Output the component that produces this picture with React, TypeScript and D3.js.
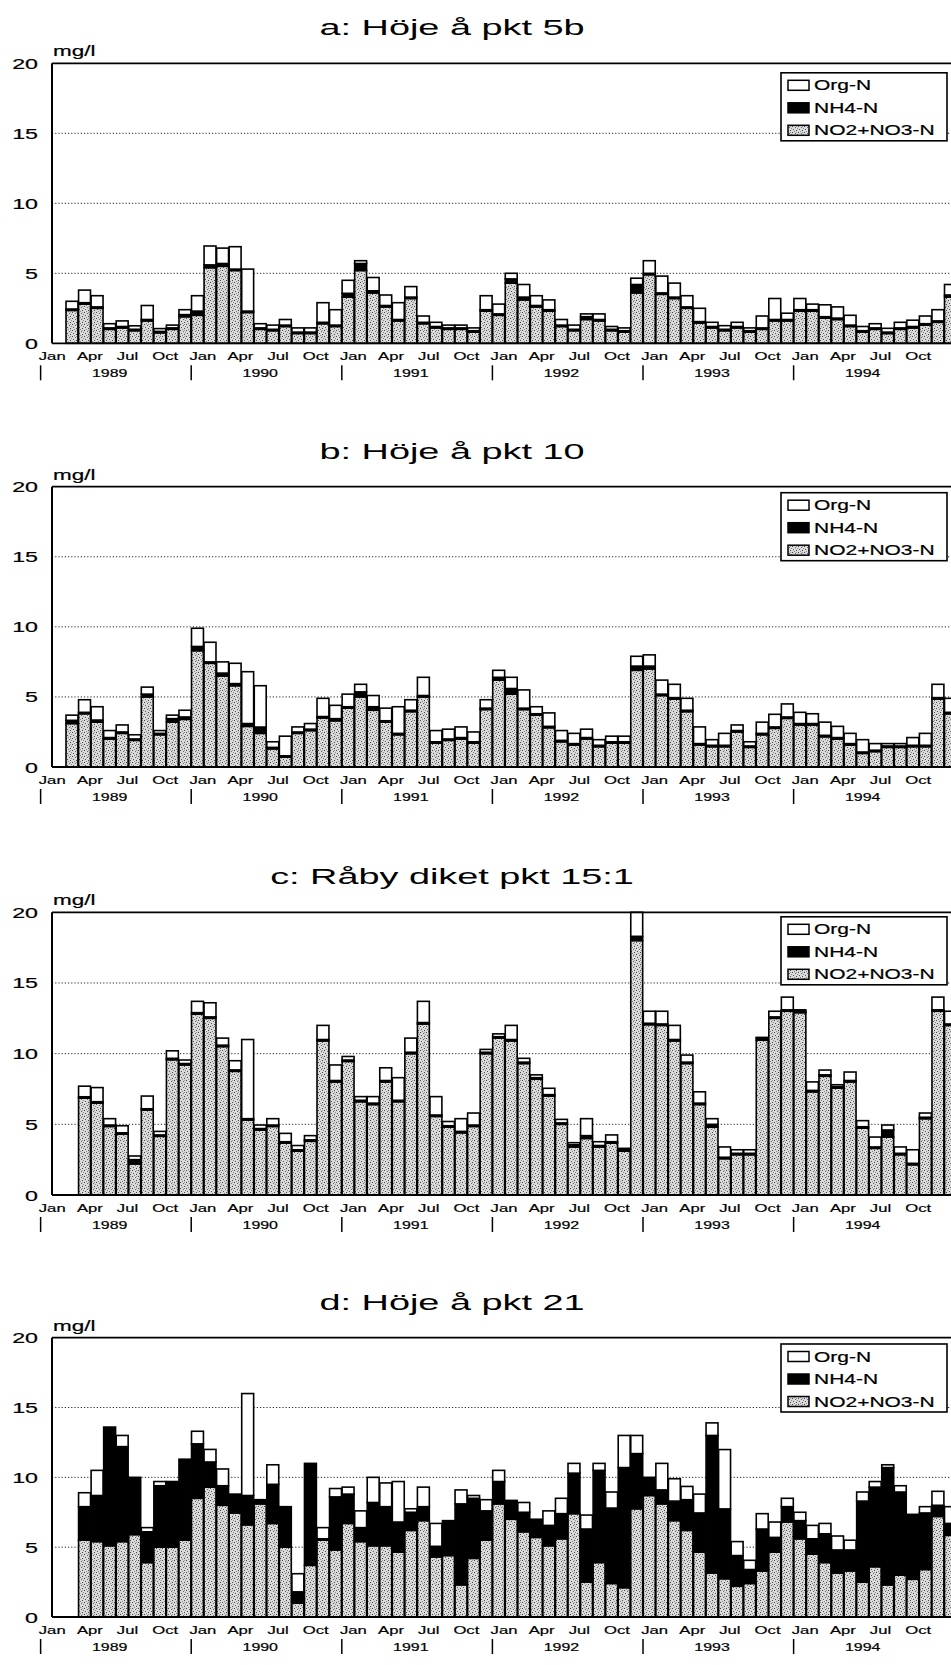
import React from 'react';
import * as d3 from 'd3';

// ---------- categories / labels ----------
const quarterLabels = ['Jan', 'Apr', 'Jul', 'Oct'];
const yearLabels = ['1989', '1990', '1991', '1992', '1993', '1994'];
const yTickValues = [0, 5, 10, 15, 20];
const seriesKeys = ['no3', 'nh4', 'org'];
const legendLabels = ['Org-N', 'NH4-N', 'NO2+NO3-N'];
const unitLabel = 'mg/l';

// ---------- panel a: Höje å pkt 5b (first bar at slot 2) ----------
const aTitle = 'a: Höje å pkt 5b';
const aStart = 2;
const aNO3 = [2.35,2.8,2.5,1.0,1.1,0.9,1.6,0.75,1.0,1.9, 2.0,5.4,5.5,5.2,2.2,1.0,0.9,1.2,0.7,0.7, 1.4,1.2,3.3,5.2,3.6,2.6,1.6,3.2,1.4,1.1, 1.0,1.0,0.8,2.3,2.0,4.3,3.1,2.6,2.3,1.2, 0.9,1.7,1.6,0.9,0.8,3.6,4.9,3.5,3.2,2.5, 1.45,1.1,0.9,1.1,0.8,1.0,1.6,1.6,2.3,2.3, 1.8,1.7,1.2,0.8,1.0,0.7,1.0,1.1,1.3,1.5, 3.3];
const aNH4 = [0.1,0.1,0.1,0.1,0.1,0.1,0.1,0.1,0.1,0.15, 0.3,0.2,0.2,0.1,0.1,0.1,0.1,0.1,0.1,0.1, 0.1,0.1,0.27,0.5,0.15,0.1,0.1,0.1,0.1,0.1, 0.1,0.1,0.1,0.1,0.1,0.3,0.2,0.1,0.1,0.1, 0.1,0.2,0.1,0.1,0.1,0.6,0.1,0.1,0.1,0.1, 0.1,0.1,0.1,0.1,0.1,0.1,0.1,0.1,0.1,0.1, 0.1,0.1,0.1,0.1,0.1,0.1,0.1,0.1,0.1,0.1, 0.15];
const aOrg = [0.55,0.9,0.8,0.3,0.4,0.25,1.0,0.2,0.2,0.35, 1.1,1.35,1.1,1.6,3.0,0.3,0.3,0.4,0.3,0.3, 1.4,1.1,0.93,0.2,0.95,0.75,1.2,0.75,0.45,0.3, 0.2,0.2,0.2,1.0,0.7,0.4,0.9,0.7,0.7,0.4, 0.3,0.2,0.4,0.2,0.2,0.45,0.9,1.2,1.0,0.8, 0.95,0.3,0.26,0.3,0.2,0.85,1.5,0.45,0.8,0.4, 0.85,0.8,0.7,0.3,0.3,0.27,0.4,0.45,0.55,0.8, 0.75];

// ---------- panel b: Höje å pkt 10 ----------
const bTitle = 'b: Höje å pkt 10';
const bStart = 2;
const bNO3 = [3.1,3.8,3.2,2.0,2.4,1.9,5.0,2.3,3.2,3.4, 8.3,7.4,6.5,5.8,2.9,2.4,1.3,0.7,2.4,2.6, 3.5,3.3,4.2,5.0,4.05,3.2,2.3,3.95,5.0,1.7, 1.9,2.0,1.7,4.1,6.2,5.2,4.1,3.7,2.8,1.8, 1.57,2.0,1.45,1.7,1.7,6.9,7.0,5.1,4.85,3.95, 1.57,1.45,1.45,2.5,1.4,2.3,2.76,3.47,3.0,3.0, 2.16,2.0,1.57,0.97,1.1,1.4,1.4,1.45,1.45,4.85, 3.8];
const bNH4 = [0.23,0.1,0.15,0.1,0.1,0.1,0.2,0.1,0.25,0.17, 0.3,0.1,0.2,0.15,0.2,0.45,0.1,0.1,0.1,0.1, 0.1,0.15,0.1,0.36,0.25,0.1,0.1,0.1,0.1,0.1, 0.1,0.1,0.1,0.1,0.2,0.4,0.1,0.1,0.1,0.1, 0.1,0.1,0.1,0.1,0.1,0.3,0.2,0.1,0.1,0.1, 0.1,0.1,0.1,0.1,0.1,0.1,0.1,0.1,0.1,0.1, 0.1,0.1,0.1,0.1,0.1,0.1,0.1,0.1,0.1,0.1, 0.1];
const bOrg = [0.37,0.9,0.95,0.5,0.5,0.3,0.5,0.2,0.25,0.48, 1.3,1.4,0.8,1.45,3.7,2.95,0.4,1.4,0.36,0.4, 1.3,0.95,0.9,0.54,0.8,0.9,1.9,0.75,1.3,0.8, 0.7,0.76,0.7,0.6,0.5,0.8,1.3,0.5,0.96,0.7, 0.73,0.6,0.4,0.4,0.4,0.7,0.8,1.0,0.95,0.85, 1.19,0.4,0.85,0.4,0.3,0.8,0.9,0.93,0.8,0.7, 0.94,0.8,0.73,0.88,0.47,0.17,0.17,0.55,0.85,0.95, 1.0];

// ---------- panel c: Råby diket pkt 15:1 ----------
const cTitle = 'c: Råby diket pkt 15:1';
const cStart = 3;
const cNO3 = [6.85,6.5,4.85,4.3,2.2,6.0,4.15,9.57,9.2,12.8, 12.5,10.5,8.75,5.3,4.6,4.85,3.67,3.1,3.8,10.9, 8.0,9.45,6.6,6.4,8.0,6.6,10.0,12.1,5.56,4.8, 4.4,4.85,10.0,11.1,10.9,9.3,8.2,7.0,5.0,3.4, 4.0,3.4,3.67,3.1,18.0,12.05,12.0,10.9,9.3,6.4, 4.8,2.57,2.85,2.85,10.95,12.5,13.0,12.9,7.3,8.4, 7.56,8.0,4.73,3.3,4.1,2.85,2.14,5.4,13.0,12.0];
const cNH4 = [0.1,0.1,0.1,0.1,0.3,0.1,0.1,0.1,0.1,0.1, 0.1,0.1,0.1,0.1,0.1,0.1,0.1,0.1,0.1,0.1, 0.1,0.1,0.1,0.1,0.1,0.1,0.1,0.1,0.1,0.1, 0.1,0.1,0.1,0.1,0.1,0.1,0.1,0.1,0.1,0.15, 0.2,0.1,0.1,0.1,0.3,0.1,0.1,0.1,0.1,0.1, 0.2,0.1,0.1,0.1,0.15,0.1,0.1,0.1,0.1,0.1, 0.1,0.1,0.1,0.1,0.5,0.1,0.1,0.1,0.1,0.1];
const cOrg = [0.75,1.0,0.45,0.5,0.26,0.9,0.25,0.53,0.25,0.8, 1.0,0.5,0.65,5.6,0.25,0.45,0.59,0.3,0.3,1.0, 1.1,0.25,0.26,0.46,0.9,1.6,1.0,1.5,1.3,0.3, 0.9,0.85,0.2,0.2,1.0,0.27,0.2,0.45,0.25,0.15, 1.2,0.27,0.48,0.1,1.7,0.85,0.9,1.0,0.5,0.8, 0.4,0.73,0.25,0.25,0.05,0.4,0.9,0.1,0.6,0.34, 0.14,0.6,0.43,0.7,0.35,0.45,0.96,0.3,0.9,0.9];

// ---------- panel d: Höje å pkt 21 ----------
const dTitle = 'd: Höje å pkt 21';
const dStart = 3;
const dNO3 = [5.5,5.4,5.1,5.4,5.9,3.9,5.0,5.0,5.5,8.5, 9.3,8.0,7.45,6.6,8.1,6.7,5.0,1.0,3.7,5.5, 4.8,6.7,5.4,5.1,5.1,4.65,6.2,6.9,4.3,4.4, 2.3,4.2,5.5,8.1,7.0,6.1,5.7,5.1,5.6,7.4, 2.5,3.9,2.4,2.1,7.75,8.7,8.1,6.9,6.2,4.65, 3.15,2.74,2.2,2.4,3.3,4.65,6.8,5.6,4.5,3.9, 3.15,3.3,2.5,3.6,2.3,3.0,2.7,3.4,7.2,5.85];
const dNH4 = [2.4,3.3,8.5,6.8,4.1,2.2,4.4,4.6,5.8,3.9, 1.8,1.4,1.35,2.1,0.3,2.8,2.9,0.8,7.3,0.1, 3.8,2.1,1.0,3.1,2.8,2.15,1.3,1.0,0.76,2.5, 5.8,4.3,2.1,1.6,1.35,1.4,1.2,1.46,1.8,2.9, 3.8,6.6,5.4,8.6,3.95,1.3,1.0,1.4,2.2,2.8, 9.85,5.0,2.2,1.0,3.0,1.05,1.1,1.3,1.1,2.06, 1.65,1.5,5.8,5.7,8.4,5.95,4.65,4.05,0.8,0.85];
const dOrg = [1.0,1.8,0.0,0.8,0.0,0.3,0.3,0.1,0.0,0.9, 0.9,1.2,0.0,7.3,0.0,1.4,0.0,1.3,0.0,0.8, 0.6,0.5,1.2,1.8,1.7,2.9,0.25,1.4,1.64,0.0, 1.0,0.2,0.8,0.8,0.0,0.7,0.1,1.04,1.1,0.7, 1.0,0.5,1.15,2.3,1.3,0.0,1.9,1.6,0.95,1.35, 0.9,4.25,1.0,0.66,1.1,1.1,0.6,0.6,0.96,0.74, 1.0,0.7,0.65,0.4,0.2,0.45,0.0,0.45,1.0,1.2];

const panels = [
  { title: aTitle, start: aStart, no3: aNO3, nh4: aNH4, org: aOrg },
  { title: bTitle, start: bStart, no3: bNO3, nh4: bNH4, org: bOrg },
  { title: cTitle, start: cStart, no3: cNO3, nh4: cNH4, org: cOrg },
  { title: dTitle, start: dStart, no3: dNO3, nh4: dNH4, org: dOrg },
];

// ---------- layout ----------
const W = 951;
const H = 1665;
const FONT = "'Liberation Sans', Arial, Helvetica, sans-serif";
const SX = 1.55; // horizontal stretch of the scanned lettering
const plotLeft = 52;
const plotRight = 960;
const panelTop = [63.3, 486.7, 912.3, 1337.7];
const panelBottom = [343.3, 767, 1195, 1617];
const legendDy = [9.5, 6, 4.5, 6.3];
const nSlots = 76;
const slotStep = 12.55;
const slotX0 = 40.6;

const x = d3
  .scaleBand<number>()
  .domain(d3.range(nSlots))
  .range([slotX0, slotX0 + nSlots * slotStep])
  .paddingInner(0.05)
  .paddingOuter(0.025);

const fills: Record<string, string> = {
  no3: 'url(#stipple)',
  nh4: '#000',
  org: '#fff',
};

function SText(props: {
  x: number;
  y: number;
  size: number;
  anchor?: string;
  sx?: number;
  sw?: number;
  children: React.ReactNode;
}) {
  const { x: tx, y: ty, size, anchor = 'start', sx = SX, sw = 0.2, children } = props;
  return (
    <text
      transform={`translate(${tx},${ty}) scale(${sx},1)`}
      textAnchor={anchor}
      fontFamily={FONT}
      fontSize={size}
      fill="#000"
      stroke="#000"
      strokeWidth={sw}
    >
      {children}
    </text>
  );
}

function Panel({ p, k }: { p: (typeof panels)[number]; k: number }) {
  const top = panelTop[k];
  const bottom = panelBottom[k];
  const y = d3.scaleLinear().domain([0, 20]).range([bottom, top]);
  const rows = p.no3.map((v, j) => ({
    slot: p.start + j,
    no3: v,
    nh4: p.nh4[j],
    org: p.org[j],
  }));
  const stacked = d3.stack<any>().keys(seriesKeys)(rows);
  const bw = x.bandwidth();
  const lTop = top + legendDy[k];
  const lLeft = 781;
  const legendFills = [fills.org, fills.nh4, fills.no3];

  return (
    <g>
      {/* title */}
      <SText x={452} y={top - 28} size={22} anchor="middle" sx={1.72} sw={0}>
        {p.title}
      </SText>
      <SText x={53} y={top - 7} size={14.5}>
        {unitLabel}
      </SText>

      {/* grid lines */}
      {yTickValues
        .filter((t) => t > 0 && t < 20)
        .map((t) => (
          <line
            key={t}
            x1={plotLeft}
            x2={plotRight}
            y1={y(t)}
            y2={y(t)}
            stroke="#222"
            strokeWidth={1}
            strokeDasharray="1.2,2"
          />
        ))}

      {/* bars */}
      {stacked.map((layer) => (
        <g key={layer.key}>
          {layer.map((d: any, j: number) => (
            <rect
              key={j}
              x={x(d.data.slot)}
              y={y(Math.min(d[1], 20))}
              width={bw}
              height={Math.max(0, y(d[0]) - y(Math.min(d[1], 20)))}
              fill={fills[layer.key]}
              stroke="#000"
              strokeWidth={1.6}
            />
          ))}
        </g>
      ))}

      {/* frame */}
      <line x1={plotLeft} x2={plotRight} y1={y(20)} y2={y(20)} stroke="#000" strokeWidth={1.8} />
      <line x1={plotLeft} x2={plotRight} y1={y(0)} y2={y(0)} stroke="#000" strokeWidth={1.8} />
      <line x1={plotLeft} x2={plotLeft} y1={y(20)} y2={y(0)} stroke="#000" strokeWidth={2} />

      {/* y tick labels */}
      {yTickValues.map((t) => (
        <SText key={t} x={38} y={y(t) + 5.5} size={15} anchor="end">
          {t}
        </SText>
      ))}

      {/* x labels: quarters */}
      {yearLabels.map((yr, yi) =>
        quarterLabels.map((q, qi) => {
          const m = yi * 12 + qi * 3;
          return (
            <SText key={yr + q} x={(x(m) as number) + slotStep * 0.9} y={bottom + 17} size={11.5} anchor="middle" sx={1.45}>
              {q}
            </SText>
          );
        })
      )}
      {/* x labels: years with separators */}
      {yearLabels.map((yr, yi) => {
        const xs = (x(yi * 12) as number) - 0.3;
        return (
          <g key={yr}>
            <line x1={xs} x2={xs} y1={bottom + 22} y2={bottom + 37} stroke="#000" strokeWidth={1.5} />
            <SText x={xs + slotStep * 5.5} y={bottom + 34} size={11} anchor="middle" sx={1.45}>
              {yr}
            </SText>
          </g>
        );
      })}

      {/* legend */}
      <rect x={lLeft} y={lTop} width={166} height={68} fill="#fff" stroke="#000" strokeWidth={1.6} />
      {legendLabels.map((lab, li) => (
        <g key={lab}>
          <rect
            x={lLeft + 7}
            y={lTop + 7.5 + li * 22.5}
            width={21}
            height={10}
            fill={legendFills[li]}
            stroke="#000"
            strokeWidth={1.5}
          />
          <SText x={lLeft + 33} y={lTop + 17.5 + li * 22.5} size={14} sx={1.5}>
            {lab}
          </SText>
        </g>
      ))}
    </g>
  );
}

export default function App() {
  return (
    <div style={{ position: 'absolute', left: 0, top: 0, width: W, height: H, overflow: 'hidden', background: '#fff' }}>
      <svg width={W} height={H} viewBox={`0 0 ${W} ${H}`} style={{ display: 'block' }}>
        <defs>
          <pattern id="stipple" width={6} height={6} patternUnits="userSpaceOnUse">
            <rect width={6} height={6} fill="#dadada" />
            <rect x={0} y={0} width={1} height={1} fill="#444" />
            <rect x={3} y={1} width={1} height={1} fill="#666" />
            <rect x={1} y={3} width={1} height={1} fill="#555" />
            <rect x={4} y={4} width={1} height={1} fill="#444" />
            <rect x={5} y={2} width={1} height={1} fill="#888" />
            <rect x={2} y={5} width={1} height={1} fill="#888" />
            <rect x={4} y={0} width={1} height={1} fill="#999" />
          </pattern>
        </defs>
        <rect width={W} height={H} fill="#fff" />
        {panels.map((p, k) => (
          <Panel key={k} p={p} k={k} />
        ))}
      </svg>
    </div>
  );
}
